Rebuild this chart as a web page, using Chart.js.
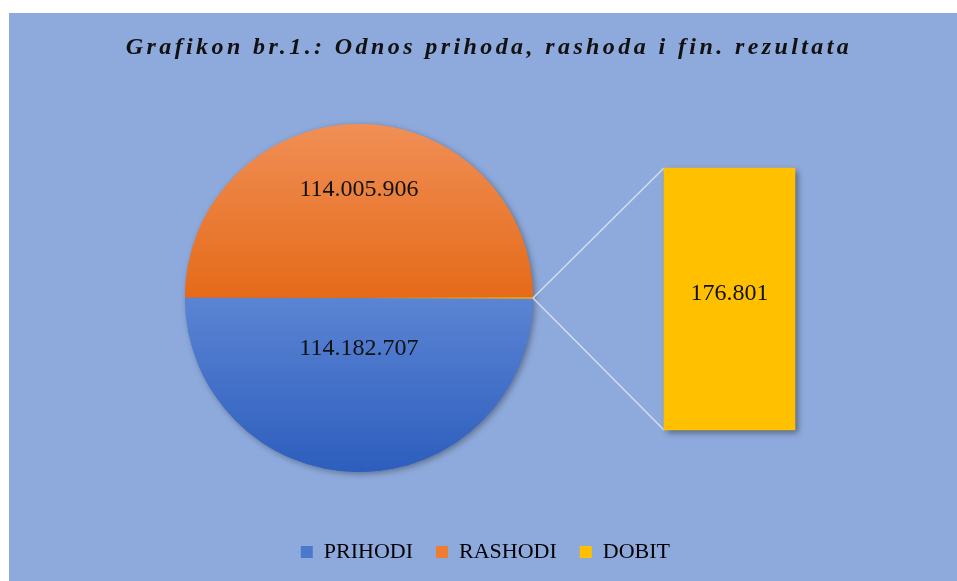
<!DOCTYPE html>
<html>
<head>
<meta charset="utf-8">
<script src="https://cdn.jsdelivr.net/npm/chart.js@4.4.1/dist/chart.umd.min.js"></script>
<style>
  html, body { margin: 0; padding: 0; background: #fff; overflow: hidden; }
  #okvir { position: absolute; left: 9px; top: 13px; width: 948px; height: 568px; background: #8eaadc; }
  canvas { position: absolute; left: 0; top: 0; }
</style>
</head>
<body>
<div id="okvir"></div>
<canvas id="pieChart" width="957" height="581"></canvas>
<canvas id="barChart" width="957" height="581"></canvas>
<script>
// Podaci za grafikon
const kategorije = ['PRIHODI', 'RASHODI', 'DOBIT'];
const iznosi = [114182707, 114005906, 176801];
const naslov = 'Grafikon br.1.: Odnos prihoda, rashoda i fin. rezultata';

// Boje (legenda + gradijenti)
const boje = ['#4a78cc', '#ee7d31', '#ffc000'];
const gradijenti = [['#5b84d3', '#2d5ebe'], ['#f08f56', '#e56a18']];
const R = 174;
const serif = "'Liberation Serif', 'DejaVu Serif', serif";

const ukupno = iznosi.reduce((a, b) => a + b, 0);
const fmt = v => v.toLocaleString('de-DE');

// Naslov sa razmakom slova
const naslovPlugin = {
    id: 'naslov',
    afterDraw(chart) {
        const ctx = chart.ctx;
        ctx.save();
        ctx.font = 'italic bold 24px ' + serif;
        ctx.letterSpacing = '3.4px';
        ctx.fillStyle = '#111';
        ctx.textAlign = 'center';
        ctx.textBaseline = 'middle';
        ctx.fillText(naslov, 489, 48);
        ctx.restore();
    }
};

// Sjena ispod pite
const sjenaPita = {
    id: 'sjenaPita',
    beforeDatasetsDraw(chart) {
        const ctx = chart.ctx;
        ctx.save();
        ctx.shadowColor = 'rgba(0,0,0,0.35)';
        ctx.shadowBlur = 6;
        ctx.shadowOffsetX = 2;
        ctx.shadowOffsetY = 2;
        chart.getDatasetMeta(0).data.forEach(a => a.draw(ctx));
        ctx.restore();
    }
};

// Vrijednosti na piti
const pomakLabele = [0.29, 0.62];
const labelePita = {
    id: 'labelePita',
    afterDatasetsDraw(chart) {
        const ctx = chart.ctx;
        const meta = chart.getDatasetMeta(0);
        ctx.save();
        ctx.font = '24px ' + serif;
        ctx.fillStyle = '#111';
        ctx.textAlign = 'center';
        ctx.textBaseline = 'middle';
        [0, 1].forEach(i => {
            const a = meta.data[i];
            const mid = (a.startAngle + a.endAngle) / 2;
            const r = a.outerRadius * pomakLabele[i];
            ctx.fillText(fmt(iznosi[i]), a.x + Math.cos(mid) * r, a.y + Math.sin(mid) * r);
        });
        ctx.restore();
    }
};

const pita = new Chart(document.getElementById('pieChart'), {
    type: 'pie',
    data: {
        labels: kategorije,
        datasets: [{
            data: iznosi,
            radius: R,
            rotation: 90 + iznosi[2] / ukupno * 180,
            borderWidth: 0,
            backgroundColor: (c) => {
                const area = c.chart.chartArea;
                if (!area || c.dataIndex > 1) return boje[c.dataIndex];
                const cy = (area.top + area.bottom) / 2;
                const y0 = c.dataIndex === 0 ? cy : cy - R;
                const g = c.chart.ctx.createLinearGradient(0, y0, 0, y0 + R);
                g.addColorStop(0, gradijenti[c.dataIndex][0]);
                g.addColorStop(1, gradijenti[c.dataIndex][1]);
                return g;
            }
        }]
    },
    options: {
        responsive: false,
        animation: false,
        events: [],
        layout: { padding: { left: 25, right: 264, top: 78, bottom: 8 } },
        plugins: {
            tooltip: { enabled: false },
            legend: {
                position: 'bottom',
                align: 'end',
                labels: {
                    boxWidth: 12,
                    boxHeight: 12,
                    padding: 23,
                    color: '#111',
                    font: { family: serif, size: 22 },
                    generateLabels: () => kategorije.map((k, i) => ({
                        text: k, fillStyle: boje[i], strokeStyle: boje[i], lineWidth: 0, hidden: false, index: i
                    }))
                }
            }
        }
    },
    plugins: [naslovPlugin, sjenaPita, labelePita]
});

// Linije od pite do stupca
const spojnice = {
    id: 'spojnice',
    beforeDatasetsDraw(chart) {
        const a = pita.getDatasetMeta(0).data[2];
        const mid = (a.startAngle + a.endAngle) / 2;
        const px = a.x + Math.cos(mid) * a.outerRadius;
        const py = a.y + Math.sin(mid) * a.outerRadius;
        const b = chart.getDatasetMeta(0).data[0];
        const left = b.x - b.width / 2;
        const ctx = chart.ctx;
        ctx.save();
        ctx.strokeStyle = '#d3ddf1';
        ctx.lineWidth = 1.5;
        ctx.beginPath();
        ctx.moveTo(px, py); ctx.lineTo(left, b.y);
        ctx.moveTo(px, py); ctx.lineTo(left, b.base);
        ctx.stroke();
        ctx.restore();
        // sjena stupca
        ctx.save();
        ctx.shadowColor = 'rgba(0,0,0,0.4)';
        ctx.shadowBlur = 6;
        ctx.shadowOffsetX = 3;
        ctx.shadowOffsetY = 3;
        b.draw(ctx);
        ctx.restore();
    },
    afterDatasetsDraw(chart) {
        const b = chart.getDatasetMeta(0).data[0];
        const ctx = chart.ctx;
        ctx.save();
        ctx.font = '24px ' + serif;
        ctx.fillStyle = '#111';
        ctx.textAlign = 'center';
        ctx.textBaseline = 'middle';
        ctx.fillText(fmt(iznosi[2]), b.x, (b.y + b.base) / 2 - 5);
        ctx.restore();
    }
};

new Chart(document.getElementById('barChart'), {
    type: 'bar',
    data: {
        labels: [kategorije[2]],
        datasets: [{
            data: [iznosi[2]],
            backgroundColor: boje[2],
            barPercentage: 1,
            categoryPercentage: 1
        }]
    },
    options: {
        responsive: false,
        animation: false,
        events: [],
        layout: { padding: { left: 664, right: 162, top: 168, bottom: 151 } },
        scales: {
            x: { display: false },
            y: { display: false, min: 0, max: iznosi[2] }
        },
        plugins: { legend: { display: false }, tooltip: { enabled: false } }
    },
    plugins: [spojnice]
});
</script>
</body>
</html>
